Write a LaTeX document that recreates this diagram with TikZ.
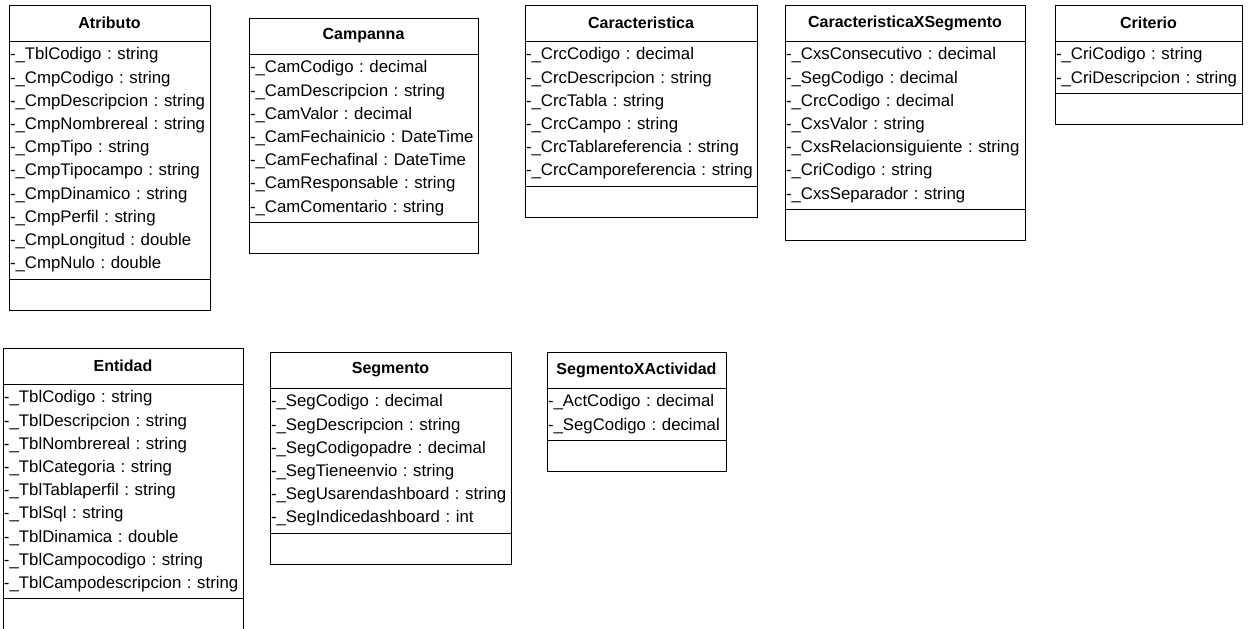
\documentclass[tikz,border=0pt]{standalone}
\usepackage{fontspec}
\setmainfont{Liberation Sans}
\usetikzlibrary{positioning}
\frenchspacing

\begin{document}
\begin{tikzpicture}[x=1pt, y=-1pt,
    box/.style={draw=black, line width=0.9pt, inner sep=0pt, outer sep=0pt},
    ctitle/.style={box, minimum height=36pt, anchor=north west, font=\fontsize{16}{19}\selectfont\bfseries},
    cattr/.style={box, align=left, inner xsep=1pt, font=\fontsize{16.8}{23.2}\selectfont},
    cops/.style={box, minimum height=31pt}]
    \def\row{23.2}

    \useasboundingbox (0, 0) rectangle (1250, 629);

    % first row
    \node[ctitle, minimum width=201pt] (atributo) at (9, 5) {Atributo};
    \node[cattr, text width=199pt, minimum height=10*\row+6, below=0pt of atributo] (atributoA) {%
        -\_TblCodigo : string\\
        -\_CmpCodigo : string\\
        -\_CmpDescripcion : string\\
        -\_CmpNombrereal : string\\
        -\_CmpTipo : string\\
        -\_CmpTipocampo : string\\
        -\_CmpDinamico : string\\
        -\_CmpPerfil : string\\
        -\_CmpLongitud : double\\
        -\_CmpNulo : double};
    \node[cops, minimum width=201pt, below=0pt of atributoA] (atributoO) {};

    \node[ctitle, minimum width=229pt] (campanna) at (249, 18) {Campanna};
    \node[cattr, text width=227pt, minimum height=7*\row+6, below=0pt of campanna] (campannaA) {%
        -\_CamCodigo : decimal\\
        -\_CamDescripcion : string\\
        -\_CamValor : decimal\\
        -\_CamFechainicio : DateTime\\
        -\_CamFechafinal : DateTime\\
        -\_CamResponsable : string\\
        -\_CamComentario : string};
    \node[cops, minimum width=229pt, below=0pt of campannaA] (campannaO) {};

    \node[ctitle, minimum width=232pt] (caract) at (525, 5) {Caracteristica};
    \node[cattr, text width=230pt, minimum height=6*\row+6, below=0pt of caract] (caractA) {%
        -\_CrcCodigo : decimal\\
        -\_CrcDescripcion : string\\
        -\_CrcTabla : string\\
        -\_CrcCampo : string\\
        -\_CrcTablareferencia : string\\
        -\_CrcCamporeferencia : string};
    \node[cops, minimum width=232pt, below=0pt of caractA] (caractO) {};

    \node[ctitle, minimum width=240pt] (cxs) at (785, 5) {CaracteristicaXSegmento};
    \node[cattr, text width=238pt, minimum height=7*\row+6, below=0pt of cxs] (cxsA) {%
        -\_CxsConsecutivo : decimal\\
        -\_SegCodigo : decimal\\
        -\_CrcCodigo : decimal\\
        -\_CxsValor : string\\
        -\_CxsRelacionsiguiente : string\\
        -\_CriCodigo : string\\
        -\_CxsSeparador : string};
    \node[cops, minimum width=240pt, below=0pt of cxsA] (cxsO) {};

    \node[ctitle, minimum width=187pt] (criterio) at (1055, 5) {Criterio};
    \node[cattr, text width=185pt, minimum height=2*\row+6, below=0pt of criterio] (criterioA) {%
        -\_CriCodigo : string\\
        -\_CriDescripcion : string};
    \node[cops, minimum width=187pt, below=0pt of criterioA] (criterioO) {};

    % second row
    \node[ctitle, minimum width=240pt] (entidad) at (3, 348) {Entidad};
    \node[cattr, text width=238pt, minimum height=9*\row+6, below=0pt of entidad] (entidadA) {%
        -\_TblCodigo : string\\
        -\_TblDescripcion : string\\
        -\_TblNombrereal : string\\
        -\_TblCategoria : string\\
        -\_TblTablaperfil : string\\
        -\_TblSql : string\\
        -\_TblDinamica : double\\
        -\_TblCampocodigo : string\\
        -\_TblCampodescripcion : string};
    \node[cops, minimum width=240pt, below=0pt of entidadA] (entidadO) {};

    \node[ctitle, minimum width=241pt] (segmento) at (270, 352) {Segmento};
    \node[cattr, text width=239pt, minimum height=6*\row+6, below=0pt of segmento] (segmentoA) {%
        -\_SegCodigo : decimal\\
        -\_SegDescripcion : string\\
        -\_SegCodigopadre : decimal\\
        -\_SegTieneenvio : string\\
        -\_SegUsarendashboard : string\\
        -\_SegIndicedashboard : int};
    \node[cops, minimum width=241pt, below=0pt of segmentoA] (segmentoO) {};

    \node[ctitle, minimum width=179pt] (sxa) at (547, 352) {SegmentoXActividad};
    \node[cattr, text width=177pt, minimum height=2*\row+6, below=0pt of sxa] (sxaA) {%
        -\_ActCodigo : decimal\\
        -\_SegCodigo : decimal};
    \node[cops, minimum width=179pt, below=0pt of sxaA] (sxaO) {};

\end{tikzpicture}
\end{document}
